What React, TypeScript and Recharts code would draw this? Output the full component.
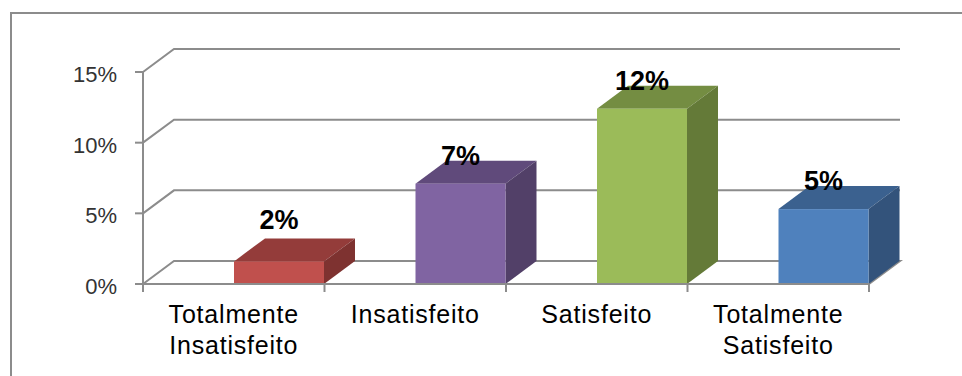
import React from 'react';
import { BarChart, Bar, XAxis, YAxis, CartesianGrid, LabelList } from 'recharts';

const categories = ['Totalmente Insatisfeito', 'Insatisfeito', 'Satisfeito', 'Totalmente Satisfeito'];
const values = [0.016, 0.071, 0.124, 0.053];
const valueLabels = ['2%', '7%', '12%', '5%'];
const yTicks = [0, 0.05, 0.1, 0.15];
const yTickLabels = ['0%', '5%', '10%', '15%'];

const frontColors = ['#C0504D', '#8064A2', '#9BBB59', '#4F81BD'];
const topColors = ['#943C3A', '#604A7B', '#748D42', '#3B618F'];
const sideColors = ['#7E3230', '#524068', '#647A38', '#33537B'];

const W = 962;
const H = 376;
const MARGIN = { top: 72, right: 93, bottom: 0, left: 0 };
const Y_AXIS_W = 143;
const X_AXIS_H = 92;
const DX = 31; // depth offset of the 3d look
const DY = 23;
const GRID = '#8c8c8c';
const BAND = (W - MARGIN.left - MARGIN.right - Y_AXIS_W) / categories.length;
const FONT = '"Liberation Sans", Arial, sans-serif';

const data = categories.map((name, i) => ({ name, value: values[i] }));

// front face sits in the right half of each band, with top and side faces behind it
const Bar3D = (props: any) => {
  const { x, y, width, height, index } = props;
  const fx = x + width / 2;
  const fr = fx + width;
  const fb = y + height;
  return (
    <g>
      <polygon
        points={`${fx},${y} ${fx + DX},${y - DY} ${fr + DX},${y - DY} ${fr},${y}`}
        fill={topColors[index]}
      />
      <polygon
        points={`${fr},${y} ${fr + DX},${y - DY} ${fr + DX},${fb - DY} ${fr},${fb}`}
        fill={sideColors[index]}
      />
      <rect x={fx} y={y} width={width} height={height} fill={frontColors[index]} />
    </g>
  );
};

const gridLine = (props: any) => {
  const { x1, x2, y1 } = props;
  const isFloor = Math.abs(y1 - (H - X_AXIS_H)) < 1;
  let d = `M${x1},${y1} L${x1 + DX},${y1 - DY} L${x2 + DX},${y1 - DY}`;
  if (isFloor) d += ` L${x2},${y1}`;
  return <path key={`grid-${y1}`} d={d} fill="none" stroke={GRID} strokeWidth={2} />;
};

const CategoryTick = (props: any) => {
  const { x, y, payload, index } = props;
  const lines = String(payload.value).split(' ');
  return (
    <g>
      <line x1={x - BAND / 2} y1={y} x2={x - BAND / 2} y2={y + 8} stroke={GRID} strokeWidth={2} />
      {index === categories.length - 1 && (
        <line x1={x + BAND / 2} y1={y} x2={x + BAND / 2} y2={y + 8} stroke={GRID} strokeWidth={2} />
      )}
      <text
        x={x}
        y={y + 39}
        textAnchor="middle"
        fontSize={25}
        letterSpacing={0.8}
        fill="#000"
        fontFamily={FONT}
      >
        {lines.map((l, i) => (
          <tspan key={i} x={x} dy={i === 0 ? 0 : 31}>
            {l}
          </tspan>
        ))}
      </text>
    </g>
  );
};

const PercentTick = (props: any) => {
  const { x, y, index } = props;
  return (
    <text x={x} y={y} dy={10} textAnchor="end" fontSize={22} fill="#333" fontFamily={FONT}>
      {yTickLabels[index]}
    </text>
  );
};

const ValueLabel = (props: any) => {
  const { x, y, width, height, index } = props;
  const cx = x + width;
  const ty = Math.min(y - 19, y + height - 55);
  return (
    <text x={cx} y={ty} textAnchor="middle" fontSize={27} fontWeight="bold" fill="#000" fontFamily={FONT}>
      {valueLabels[index]}
    </text>
  );
};

export default function App() {
  return (
    <div
      style={{
        position: 'fixed',
        left: 0,
        top: 0,
        width: W,
        height: H,
        overflow: 'hidden',
        background: '#fff',
      }}
    >
      <div
        style={{
          position: 'absolute',
          left: 10,
          top: 12,
          width: 1000,
          height: 500,
          border: `2px solid ${GRID}`,
        }}
      />
      <div style={{ position: 'absolute', left: 0, top: 0 }}>
        <BarChart width={W} height={H} data={data} margin={MARGIN} barSize={90}>
          <CartesianGrid vertical={false} horizontal={gridLine} />
          <XAxis
            dataKey="name"
            axisLine={{ stroke: GRID, strokeWidth: 2 }}
            tickLine={false}
            tickSize={0}
            tickMargin={0}
            interval={0}
            tick={<CategoryTick />}
            height={X_AXIS_H}
          />
          <YAxis
            domain={[0, 0.15]}
            ticks={yTicks}
            width={Y_AXIS_W}
            axisLine={{ stroke: GRID, strokeWidth: 2 }}
            tickLine={{ stroke: GRID, strokeWidth: 2 }}
            tickSize={8}
            tickMargin={18}
            tick={<PercentTick />}
          />
          <Bar dataKey="value" shape={<Bar3D />} isAnimationActive={false}>
            <LabelList dataKey="value" content={<ValueLabel />} />
          </Bar>
        </BarChart>
      </div>
    </div>
  );
}
